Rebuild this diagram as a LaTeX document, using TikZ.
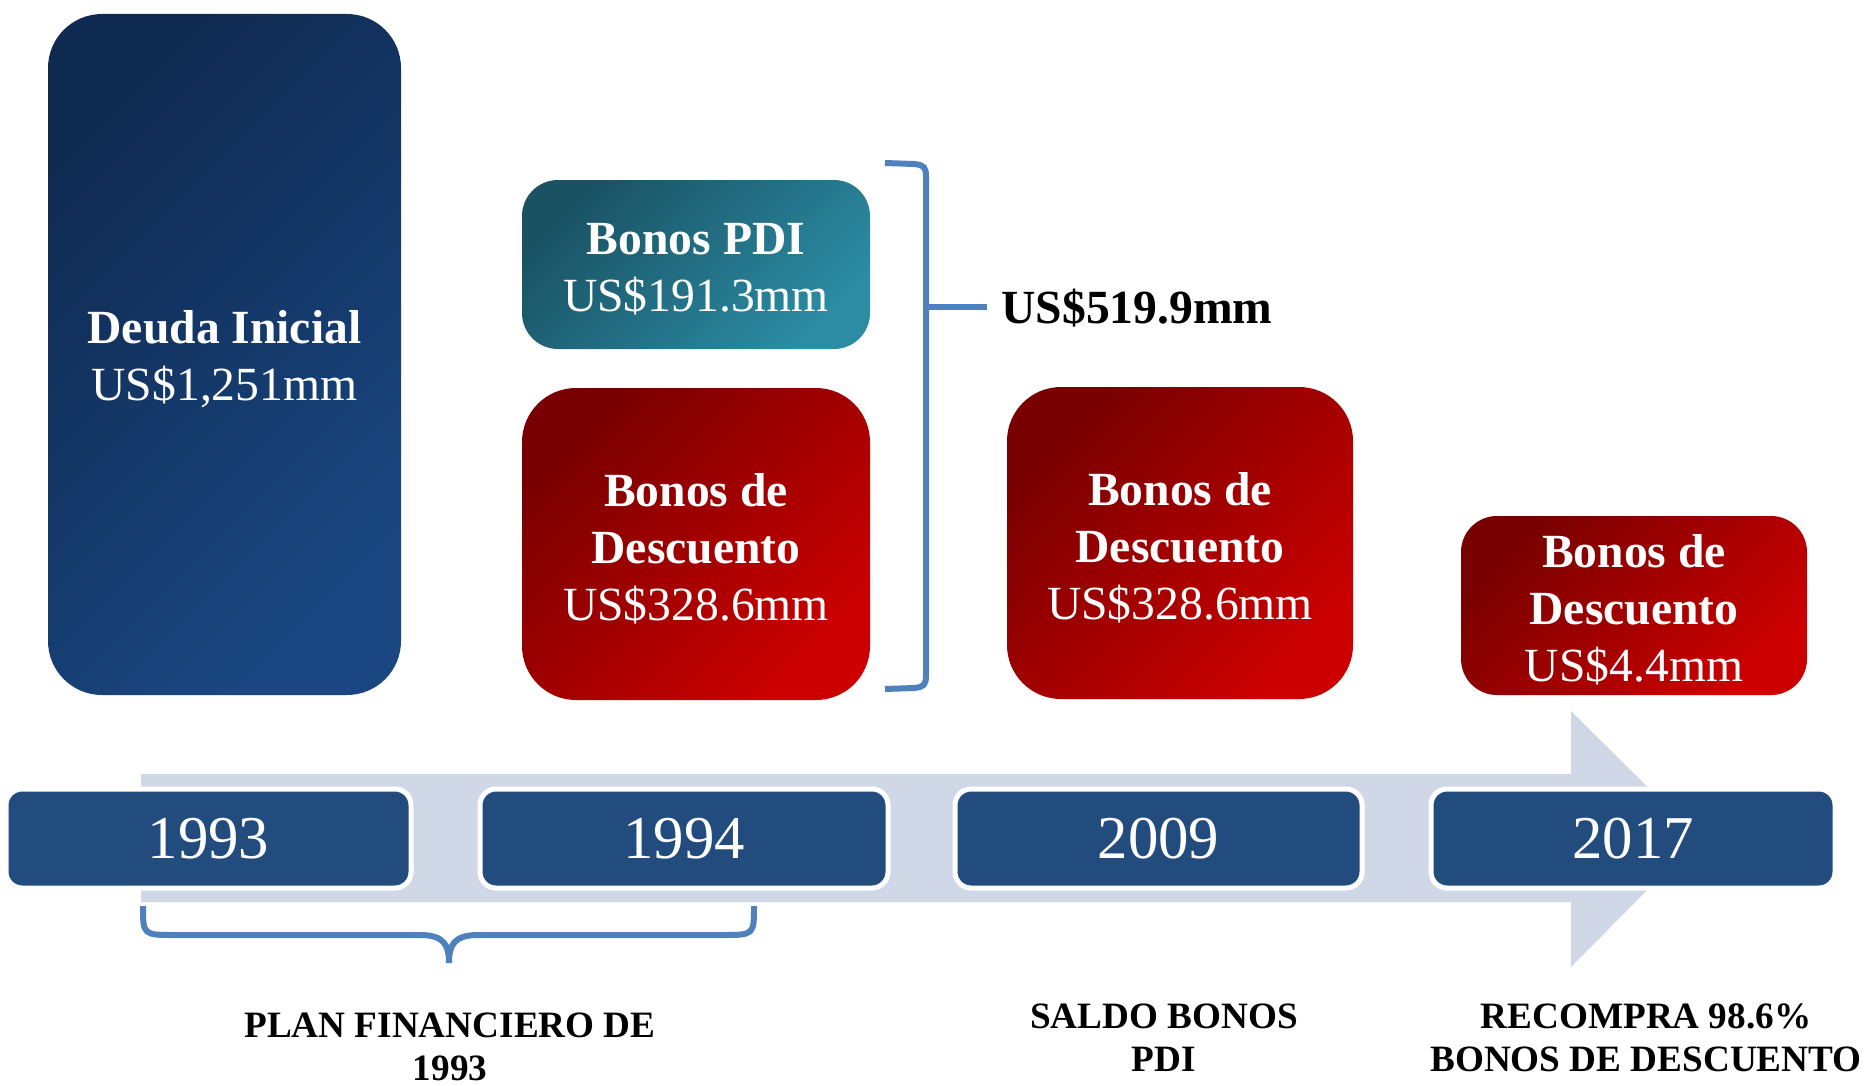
\documentclass[tikz,border=0pt]{standalone}
\usepackage{fontspec}
\setmainfont{Liberation Serif}
\definecolor{deudaA}{HTML}{0F2A50}
\definecolor{deudaB}{HTML}{1A4782}
\definecolor{pdiA}{HTML}{1A5264}
\definecolor{pdiB}{HTML}{2B8CA4}
\definecolor{redA}{HTML}{780000}
\definecolor{redB}{HTML}{CC0000}
\definecolor{yearblue}{HTML}{224B7E}
\definecolor{bandcol}{HTML}{D0D8E8}
\definecolor{bracecol}{HTML}{4F81BD}
\tikzset{
  bigbox/.style={rounded corners=27pt, inner sep=0pt},
  deudabox/.style={bigbox, top color=deudaA, bottom color=deudaB, shading angle=45},
  pdibox/.style={bigbox, rounded corners=18pt, top color=pdiA, bottom color=pdiB, shading angle=45},
  redbox/.style={bigbox, top color=redA, bottom color=redB, shading angle=45},
  boxtext/.style={align=center, text=white, inner sep=0pt, font=\fontsize{23.8}{28.6}\selectfont},
  yearbox/.style={rounded corners=8pt, fill=yearblue, draw=white, line width=2.5pt,
    minimum height=49.5pt, inner sep=0pt, text=white, font=\fontsize{30.4}{34}\selectfont},
  lbl/.style={align=center, inner sep=0pt, font=\fontsize{18.6}{21.5}\selectfont\bfseries},
  bracestyle/.style={draw=bracecol, line width=3pt},
}
\begin{document}
\begin{tikzpicture}[x=0.5pt, y=-0.5pt]
\useasboundingbox (0,0) rectangle (1868,1086);

% timeline band with arrow
\fill[bandcol] (141,774) -- (1571,774) -- (1571,711) -- (1699,838) -- (1571,967) -- (1571,902) -- (141,902) -- cycle;

% tall box
\node[deudabox, minimum width=176.5pt, minimum height=340.5pt] (deuda) at (224.5,354.5) {};
\node[boxtext] (deudat) at ([yshift=-2.5pt]deuda.center) {\textbf{Deuda Inicial}\\US\$1,251mm};

% 1994 boxes
\node[pdibox, minimum width=174pt, minimum height=84.5pt] (pdi) at (696,264.5) {};
\node[boxtext] (pdit) at ([yshift=-2.5pt]pdi.center) {\textbf{Bonos PDI}\\US\$191.3mm};
\node[redbox, minimum width=174pt, minimum height=156pt] (desc94) at (696,544) {};
\node[boxtext] (desc94t) at ([yshift=-2.5pt]desc94.center) {\textbf{Bonos de}\\\textbf{Descuento}\\US\$328.6mm};

% 2009 box
\node[redbox, minimum width=173pt, minimum height=156pt] (desc09) at (1180,543) {};
\node[boxtext] (desc09t) at ([yshift=-2.5pt]desc09.center) {\textbf{Bonos de}\\\textbf{Descuento}\\US\$328.6mm};

% 2017 box
\node[redbox, rounded corners=18pt, minimum width=173pt, minimum height=89.5pt] (desc17) at (1634,605.5) {};
\node[boxtext] (desc17t) at ([yshift=-2pt]desc17.center) {\textbf{Bonos de}\\\textbf{Descuento}\\US\$4.4mm};

% year boxes
\node[yearbox, minimum width=202.5pt] (y93) at (208.5,838.5) {1993};
\node[yearbox, minimum width=204pt] (y94) at (684,838.5) {1994};
\node[yearbox, minimum width=203.5pt] (y09) at (1158.5,838.5) {2009};
\node[yearbox, minimum width=202pt] (y17) at (1633,838.5) {2017};

% right bracket with total
\coordinate (brtick) at (926,307);
\draw[bracestyle] (885,163) -- (914,164) .. controls (924,165) and (926,167) .. (926,177)
  -- (926,675) .. controls (926,685) and (924,687) .. (914,688) -- (885,689);
\node[anchor=west, inner sep=0pt, font=\fontsize{23.8}{28.6}\selectfont\bfseries] (total) at (1001,308) {US\$519.9mm};
\draw[bracestyle] (brtick) -- (987,307);

% bottom brace
\draw[bracestyle] (143,906) .. controls (143,935) and (143,935) .. (175,935) -- (420,935)
  .. controls (444,935) and (449,945) .. (449,963)
  .. controls (449,945) and (454,935) .. (478,935) -- (722,935)
  .. controls (754,935) and (754,935) .. (754,906);

% labels
\node[lbl] (lplan) at (450,1047) {PLAN FINANCIERO DE\\1993};
\node[lbl] (lsaldo) at (1164,1038) {SALDO BONOS\\PDI};
\node[lbl] (lrec) at (1646,1038) {RECOMPRA 98.6\%\\BONOS DE DESCUENTO};
\end{tikzpicture}
\end{document}
